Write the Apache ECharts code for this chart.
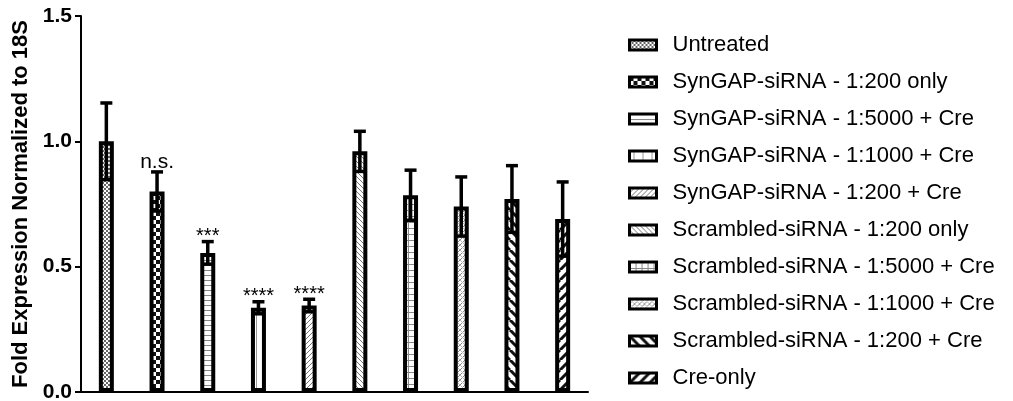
<!DOCTYPE html>
<html>
<head>
<meta charset="utf-8">
<script src="https://cdn.jsdelivr.net/npm/echarts@6/dist/echarts.min.js"></script>
<style>
  html, body { margin: 0; padding: 0; background: #fff; }
  #chart { width: 1013px; height: 401px; }
</style>
</head>
<body>
<div id="chart"></div>
<script>
const groups = [
  'Untreated',
  'SynGAP-siRNA - 1:200 only',
  'SynGAP-siRNA - 1:5000 + Cre',
  'SynGAP-siRNA - 1:1000 + Cre',
  'SynGAP-siRNA - 1:200 + Cre',
  'Scrambled-siRNA - 1:200 only',
  'Scrambled-siRNA - 1:5000 + Cre',
  'Scrambled-siRNA - 1:1000 + Cre',
  'Scrambled-siRNA - 1:200 + Cre',
  'Cre-only'
];
const means = [1.00, 0.80, 0.555, 0.336, 0.345, 0.96, 0.785, 0.74, 0.77, 0.69];
const errors = [0.153, 0.078, 0.045, 0.024, 0.025, 0.08, 0.10, 0.118, 0.133, 0.148];
const sigLabels = ['', 'n.s.', '***', '****', '****', '', '', '', '', ''];
const yTicks = [0, 0.5, 1.0, 1.5];

// pattern tiles drawn on small canvases
function tile(size, draw) {
  const c = document.createElement('canvas');
  c.width = size; c.height = size;
  const g = c.getContext('2d');
  g.fillStyle = '#fff';
  g.fillRect(0, 0, size, size);
  draw(g, size);
  return { image: c, repeat: 'repeat' };
}
function diag(color, width, dir) {
  return (g, s) => {
    g.strokeStyle = color; g.lineWidth = width;
    g.beginPath();
    for (let k = -1; k <= 1; k++) {
      if (dir > 0) { g.moveTo(k * s, s); g.lineTo(k * s + s, 0); }
      else { g.moveTo(k * s, 0); g.lineTo(k * s + s, s); }
    }
    g.stroke();
  };
}
const patterns = [
  tile(4, (g) => { g.fillStyle = '#666'; g.fillRect(0, 0, 2, 2); g.fillRect(2, 2, 2, 2); }),
  tile(8, (g) => { g.fillStyle = '#111'; g.fillRect(0, 0, 4, 4); g.fillRect(4, 4, 4, 4); }),
  tile(5, (g) => { g.fillStyle = '#888'; g.fillRect(0, 0, 5, 1); }),
  tile(9, (g) => { g.fillStyle = '#999'; g.fillRect(4, 0, 1, 9); }),
  tile(5, diag('#777', 1, 1)),
  tile(5, diag('#777', 1, -1)),
  tile(6, (g) => { g.fillStyle = '#888'; g.fillRect(0, 0, 6, 1); g.fillRect(0, 0, 1, 6); }),
  tile(5, (g, s) => { diag('#888', 1, 1)(g, s); diag('#bbb', 1, -1)(g, s); }),
  tile(10, diag('#111', 3, -1)),
  tile(10, diag('#111', 3, 1))
];

const barSeries = groups.map((name, i) => ({
  name: name,
  type: 'bar',
  barWidth: 15,
  barGap: '-100%',
  data: means.map((v, j) => (j === i ? v : '-')),
  itemStyle: { color: patterns[i], borderColor: '#000', borderWidth: 4 },
  z: 2
}));

const errSeries = {
  type: 'custom',
  name: 'err',
  z: 5,
  data: means.map((v, i) => [i, v, errors[i]]),
  renderItem: function (params, api) {
    const x = api.value(0), m = api.value(1), e = api.value(2);
    const top = api.coord([x, m + e]);
    const bot = api.coord([x, m - e]);
    const cap = 6;
    const style = { stroke: '#000', lineWidth: 3.5 };
    const children = [
      { type: 'line', shape: { x1: top[0], y1: top[1], x2: bot[0], y2: bot[1] }, style: style },
      { type: 'line', shape: { x1: top[0] - cap, y1: top[1], x2: top[0] + cap, y2: top[1] }, style: style },
      { type: 'line', shape: { x1: bot[0] - cap, y1: bot[1], x2: bot[0] + cap, y2: bot[1] }, style: style }
    ];
    const lbl = sigLabels[params.dataIndex];
    if (lbl) {
      const isStar = lbl.indexOf('*') === 0;
      children.push({
        type: 'text',
        style: {
          x: top[0], y: top[1] + (isStar ? 5 : 1),
          text: lbl, align: 'center', verticalAlign: 'bottom',
          fill: '#000',
          font: isStar ? '20px Arial' : '21px Arial'
        }
      });
    }
    return { type: 'group', children: children };
  }
};

const chart = echarts.init(document.getElementById('chart'));
chart.setOption({
  backgroundColor: '#fff',
  animation: false,
  grid: { left: 81, right: 425, top: 16, bottom: 9, containLabel: false, outerBoundsMode: 'none' },
  legend: {
    orient: 'vertical',
    left: 628,
    top: 34,
    padding: 0,
    icon: 'rect',
    itemWidth: 27,
    itemHeight: 10,
    itemGap: 15,
    data: groups,
    itemStyle: { borderWidth: 3 },
    textStyle: { fontFamily: 'Arial', fontSize: 22, color: '#000', padding: [0, 0, 0, 11] }
  },
  xAxis: {
    type: 'category',
    data: groups,
    axisLine: { lineStyle: { color: '#000', width: 2 } },
    axisTick: { show: false },
    axisLabel: { show: false }
  },
  yAxis: {
    type: 'value',
    min: yTicks[0],
    max: yTicks[yTicks.length - 1],
    interval: 0.5,
    name: 'Fold Expression Normalized to 18S',
    nameLocation: 'middle',
    nameRotate: 90,
    nameGap: 48,
    nameTextStyle: { fontFamily: 'Arial', fontWeight: 'bold', fontSize: 22, color: '#000' },
    axisLine: { show: true, lineStyle: { color: '#000', width: 2 } },
    axisTick: { show: true, length: 6, lineStyle: { color: '#000', width: 2 } },
    axisLabel: {
      fontFamily: 'Arial', fontWeight: 'bold', fontSize: 21, color: '#000', margin: 9,
      formatter: (v) => v.toFixed(1)
    },
    splitLine: { show: false }
  },
  series: barSeries.concat([errSeries])
});
</script>
</body>
</html>
